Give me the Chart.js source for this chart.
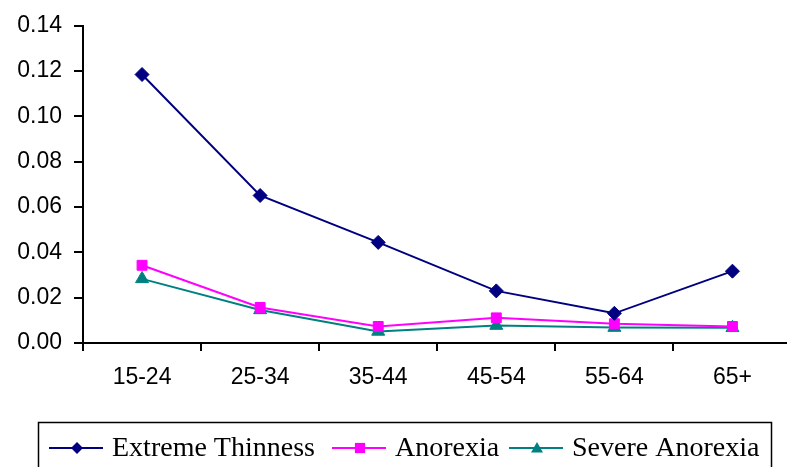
<!DOCTYPE html>
<html>
<head>
<meta charset="utf-8">
<script src="https://cdn.jsdelivr.net/npm/chart.js@4/dist/chart.umd.min.js"></script>
<style>
  html, body { margin: 0; padding: 0; background: #fff; overflow: hidden; }
  #wrap { width: 800px; height: 467px; }
</style>
</head>
<body>
<div id="wrap"><canvas id="chart" width="800" height="467"></canvas></div>
<script>
const ageGroups = ['15-24', '25-34', '35-44', '45-54', '55-64', '65+'];
const extremeThinness = [0.1185, 0.0651, 0.0444, 0.0230, 0.0131, 0.0317];
const anorexia = [0.0343, 0.0157, 0.0073, 0.0111, 0.0085, 0.0073];
const severeAnorexia = [0.0283, 0.0146, 0.0051, 0.0077, 0.0068, 0.0067];

const NAVY = '#000080';
const MAGENTA = '#FF00FF';
const TEAL = '#008080';

function drawMarker(ctx, style, x, y, r, color) {
  ctx.save();
  ctx.fillStyle = color;
  ctx.beginPath();
  if (style === 'rectRot') {
    ctx.moveTo(x, y - r); ctx.lineTo(x + r, y); ctx.lineTo(x, y + r); ctx.lineTo(x - r, y);
  } else if (style === 'rect') {
    ctx.rect(x - r * 0.85, y - r * 0.85, r * 1.7, r * 1.7);
  } else {
    ctx.moveTo(x, y - r); ctx.lineTo(x + r, y + r * 0.75); ctx.lineTo(x - r, y + r * 0.75);
  }
  ctx.closePath();
  ctx.fill();
  ctx.restore();
}

// legend box under the plot: line + marker, serif text
const boxLegend = {
  id: 'boxLegend',
  afterDraw(chart) {
    const ctx = chart.ctx;
    ctx.save();
    ctx.strokeStyle = '#000';
    ctx.lineWidth = 1.5;
    ctx.strokeRect(38.5, 422.5, 733, 60);
    const slots = [49, 332, 509];
    ctx.font = '28px "Liberation Serif", "Times New Roman", serif';
    ctx.textBaseline = 'alphabetic';
    chart.data.datasets.forEach((ds, i) => {
      const x = slots[i];
      const y = 448;
      ctx.strokeStyle = ds.borderColor;
      ctx.lineWidth = 2;
      ctx.beginPath();
      ctx.moveTo(x, y); ctx.lineTo(x + 54, y);
      ctx.stroke();
      drawMarker(ctx, ds.pointStyle, x + 28, y, 6, ds.borderColor);
      ctx.fillStyle = '#000';
      ctx.fillText(ds.label, x + 63, 456);
    });
    ctx.restore();
  }
};

const axisFont = { family: 'Arial, "Liberation Sans", sans-serif', size: 23 };

new Chart(document.getElementById('chart'), {
  type: 'line',
  data: {
    labels: ageGroups,
    datasets: [
      { label: 'Extreme Thinness', data: extremeThinness, borderColor: NAVY, backgroundColor: NAVY,
        pointStyle: 'rectRot', pointRadius: 7, borderWidth: 2, pointBorderWidth: 1 },
      { label: 'Anorexia', data: anorexia, borderColor: MAGENTA, backgroundColor: MAGENTA,
        pointStyle: 'rect', pointRadius: 7, borderWidth: 2, pointBorderWidth: 1 },
      { label: 'Severe Anorexia', data: severeAnorexia, borderColor: TEAL, backgroundColor: TEAL,
        pointStyle: 'triangle', pointRadius: 7.5, borderWidth: 2, pointBorderWidth: 1 }
    ]
  },
  options: {
    responsive: false,
    animation: false,
    layout: { padding: { left: 16, top: 21, right: 2, bottom: 72 } },
    plugins: { legend: { display: false }, tooltip: { enabled: false } },
    scales: {
      x: {
        offset: true,
        afterFit: s => { s.height = 52; },
        grid: { offset: true, drawOnChartArea: false, color: '#000', lineWidth: 2, tickLength: 8 },
        border: { color: '#000', width: 2 },
        ticks: { color: '#000', font: axisFont, padding: 13, maxRotation: 0 }
      },
      y: {
        min: 0,
        max: 0.14,
        afterFit: s => { s.width = 67; },
        grid: { drawOnChartArea: false, color: '#000', lineWidth: 2, tickLength: 9 },
        border: { color: '#000', width: 2 },
        ticks: { color: '#000', font: axisFont, padding: 12, stepSize: 0.02,
                 callback: v => v.toFixed(2) }
      }
    }
  },
  plugins: [boxLegend]
});
</script>
</body>
</html>
